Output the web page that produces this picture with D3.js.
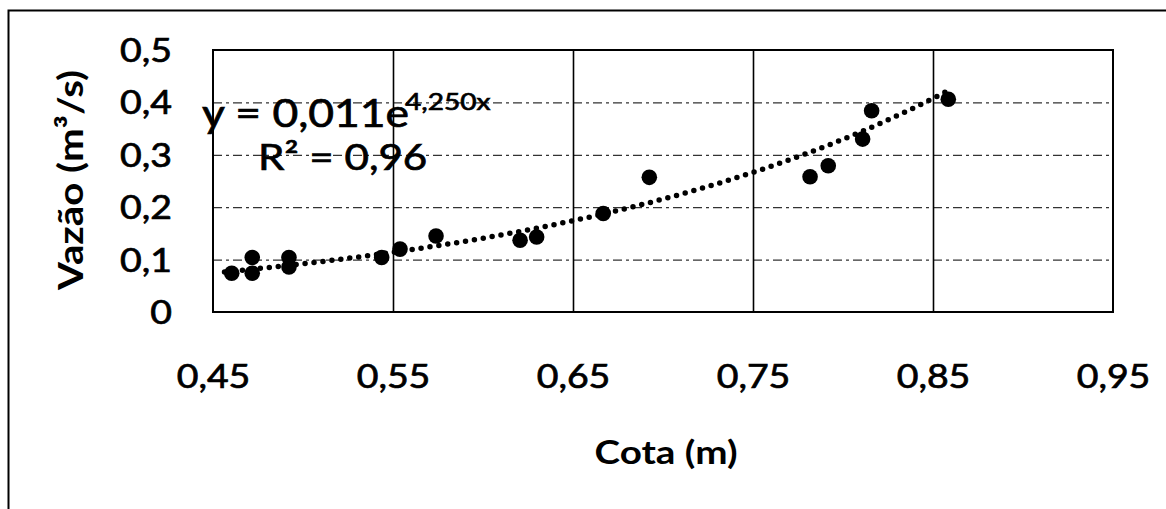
<!DOCTYPE html>
<html>
<head>
<meta charset="utf-8">
<script src="https://cdn.jsdelivr.net/npm/d3@7"></script>
<style>
  html, body { margin: 0; padding: 0; background: #fff; }
  svg { display: block; }
  text { font-family: Lato, "Open Sans", "DejaVu Sans", sans-serif; fill: #000; }
</style>
</head>
<body>
<svg id="chart" width="1166" height="509"></svg>
<script>
// ---- data ----
const cota = [0.4604, 0.4718, 0.4718, 0.4922, 0.4922, 0.5437, 0.5539, 0.5739, 0.6206, 0.6298, 0.6668, 0.6924, 0.7817, 0.7918, 0.8109, 0.8159, 0.8585];
const vazao = [0.074, 0.104, 0.074, 0.104, 0.086, 0.104, 0.120, 0.145, 0.137, 0.143, 0.188, 0.257, 0.258, 0.279, 0.330, 0.384, 0.406];
const xTicks = [0.45, 0.55, 0.65, 0.75, 0.85, 0.95];
const yTicks = [0, 0.1, 0.2, 0.3, 0.4, 0.5];
const trendA = 0.011, trendB = 4.250;
const eqLabel = "y = 0,011e";
const eqExp = "4,250x";
const r2Label = "R² = 0,96";
const xTitle = "Cota (m)";
const yTitle = "Vazão (m³/s)";

const STRETCH = 1.17; // horizontal widening seen in the reference lettering
const widen = sel => sel.each(function () {
  const w = this.getComputedTextLength();
  d3.select(this).attr("textLength", w * STRETCH).attr("lengthAdjust", "spacingAndGlyphs");
});
const heavy = sel => sel.attr("stroke", "#000").attr("stroke-width", 0.7);

const svg = d3.select("#chart");
const fmt = v => v === 0 ? "0" : String(+v.toFixed(2)).replace(".", ",");

const plot = { left: 213, right: 1113, top: 50, bottom: 312 };
const x = d3.scaleLinear().domain([0.45, 0.95]).range([plot.left, plot.right]);
const y = d3.scaleLinear().domain([0, 0.5]).range([plot.bottom, plot.top]);

// outer chart border
svg.append("rect").attr("x", 8.5).attr("y", 10.5).attr("width", 1170).attr("height", 520)
  .attr("fill", "none").attr("stroke", "#000").attr("stroke-width", 2);

// horizontal gridlines (dashed)
svg.append("g").attr("transform", `translate(${plot.left},0)`)
  .call(d3.axisLeft(y).tickValues(yTicks.slice(1, -1)).tickSize(-(plot.right - plot.left)).tickFormat(""))
  .call(g => g.select(".domain").remove())
  .call(g => g.selectAll("line").attr("stroke", "#333").attr("stroke-width", 1.3).attr("stroke-dasharray", "9 4 3 4"));

// vertical gridlines (solid)
svg.append("g").attr("transform", `translate(0,${plot.bottom})`)
  .call(d3.axisBottom(x).tickValues(xTicks.slice(1, -1)).tickSize(-(plot.bottom - plot.top)).tickFormat(""))
  .call(g => g.select(".domain").remove())
  .call(g => g.selectAll("line").attr("stroke", "#000").attr("stroke-width", 1.6));

// plot area frame
svg.append("rect").attr("x", plot.left).attr("y", plot.top)
  .attr("width", plot.right - plot.left).attr("height", plot.bottom - plot.top)
  .attr("fill", "none").attr("stroke", "#000").attr("stroke-width", 2);

// y tick labels
svg.append("g").attr("transform", `translate(${plot.left},0)`)
  .call(d3.axisLeft(y).tickValues(yTicks).tickSize(0).tickPadding(41).tickFormat(fmt))
  .call(g => g.select(".domain").remove())
  .call(g => g.selectAll("text").attr("font-size", 32).attr("font-family", "Lato, sans-serif")
    .attr("dy", "0.36em").call(widen).call(heavy));

// x tick labels
svg.append("g").attr("transform", `translate(0,${plot.bottom})`)
  .call(d3.axisBottom(x).tickValues(xTicks).tickSize(0).tickPadding(53).tickFormat(fmt))
  .call(g => g.select(".domain").remove())
  .call(g => g.selectAll("text").attr("font-size", 32).attr("font-family", "Lato, sans-serif").call(widen).call(heavy));

// axis titles
svg.append("text").attr("x", 666).attr("y", 464).attr("text-anchor", "middle")
  .attr("font-size", 33).attr("font-weight", "bold").text(xTitle).call(widen);
svg.append("text").attr("transform", "translate(83,180) rotate(-90)").attr("text-anchor", "middle")
  .attr("font-size", 34).attr("font-weight", "bold").attr("textLength", 220).attr("lengthAdjust", "spacingAndGlyphs")
  .text(yTitle);

// trendline
const xmin = d3.min(cota), xmax = d3.max(cota);
const trendPts = d3.range(0, 201).map(i => {
  const xv = xmin - 0.004 + (xmax - xmin + 0.004) * i / 200;
  return [xv, trendA * Math.exp(trendB * xv)];
});
svg.append("path").datum(trendPts)
  .attr("d", d3.line().x(d => x(d[0])).y(d => y(d[1])))
  .attr("fill", "none").attr("stroke", "#000").attr("stroke-width", 5.5)
  .attr("stroke-linecap", "round").attr("stroke-dasharray", "0 9");

// points
svg.append("g").selectAll("circle").data(cota.map((c, i) => [c, vazao[i]])).join("circle")
  .attr("cx", d => x(d[0])).attr("cy", d => y(d[1])).attr("r", 7.8).attr("fill", "#000");

// equation labels
svg.append("text").attr("x", 202).attr("y", 127).attr("font-size", 38).text(eqLabel).call(widen).call(heavy);
svg.append("text").attr("x", 405).attr("y", 110).attr("font-size", 24).text(eqExp).call(widen).call(heavy);
svg.append("text").attr("x", 258).attr("y", 170).attr("font-size", 36).text(r2Label).call(widen).call(heavy);
</script>
</body>
</html>
